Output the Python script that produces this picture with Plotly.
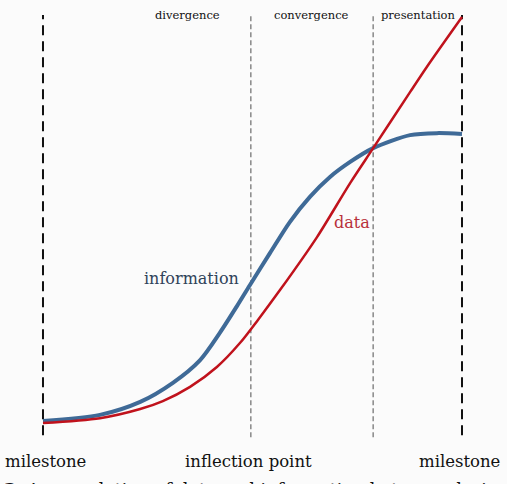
import plotly.graph_objects as go

# time axis (milestone to milestone = 0..10), accumulated amount (0..100)
info_x = [0, 1.36, 2.32, 3.10, 3.75, 4.22, 4.63, 4.94, 5.42, 5.89, 6.37, 6.85, 7.33, 7.88, 8.76, 9.40, 10]
info_y = [0.5, 2.0, 5.2, 9.9, 15.5, 22.2, 28.8, 34.0, 41.9, 49.5, 55.7, 60.6, 64.3, 67.7, 70.9, 71.4, 71.2]

data_x = [0, 1.36, 2.32, 2.86, 3.51, 4.15, 4.70, 5.13, 5.66, 6.54, 7.33, 7.88, 8.76, 9.16, 10]
data_y = [0, 1.2, 3.45, 5.4, 8.9, 13.8, 19.7, 25.4, 32.8, 45.8, 59.1, 67.7, 81.5, 87.7, 100]

milestones = [0, 10]
phase_bounds = [4.96, 7.88]
phase_labels = ["divergence", "convergence", "presentation"]
phase_label_x = [3.46, 6.42, 8.95]
bottom_labels = ["milestone", "inflection point", "milestone"]
bottom_label_x = [0.05, 4.9, 9.95]

SERIF = "DejaVu Serif"

fig = go.Figure()
fig.add_trace(go.Scatter(x=info_x, y=info_y, mode="lines",
                         line=dict(color="#3f6a97", width=4, shape="spline", smoothing=0.8),
                         hoverinfo="skip", showlegend=False))
fig.add_trace(go.Scatter(x=data_x, y=data_y, mode="lines",
                         line=dict(color="#c0121c", width=2.5, shape="spline", smoothing=0.8),
                         hoverinfo="skip", showlegend=False))

for m in milestones:
    fig.add_shape(type="line", x0=m, x1=m, y0=-3, y1=100.5, xref="x", yref="y",
                  line=dict(color="#111111", width=2, dash="10px,6px"), layer="below")
for b in phase_bounds:
    fig.add_shape(type="line", x0=b, x1=b, y0=-3.5, y1=100.5, xref="x", yref="y",
                  line=dict(color="#888888", width=1.5, dash="5px,3px"), layer="below")

for lab, x in zip(phase_labels, phase_label_x):
    fig.add_annotation(x=x, y=100.5, text=lab, showarrow=False, xref="x", yref="y",
                       yanchor="middle", font=dict(family=SERIF, size=11.5, color="#111111"))
for lab, x in zip(bottom_labels, bottom_label_x):
    fig.add_annotation(x=x, y=-9.5, text=lab, showarrow=False, xref="x", yref="y",
                       yanchor="middle", font=dict(family=SERIF, size=16.5, color="#111111"))

fig.add_annotation(x=3.54, y=35.7, text="information", showarrow=False, xref="x", yref="y",
                   font=dict(family=SERIF, size=16, color="#2f4259"))
fig.add_annotation(x=7.37, y=49.3, text="data", showarrow=False, xref="x", yref="y",
                   font=dict(family=SERIF, size=16, color="#b8303a"))

fig.add_annotation(x=0, y=0, xref="paper", yref="paper", xanchor="left", yanchor="top",
                   xshift=2, yshift=7, showarrow=False,
                   text="<b>3</b>. Accumulation of data and information between design phases",
                   font=dict(family=SERIF, size=17.5, color="#111111"))

fig.update_xaxes(range=[-1.026, 11.074], visible=False, fixedrange=True)
fig.update_yaxes(range=[-15.02, 104.19], visible=False, fixedrange=True)
fig.update_layout(width=507, height=484, margin=dict(l=0, r=0, t=0, b=0),
                  paper_bgcolor="#fbfbfb", plot_bgcolor="#fbfbfb")

fig.write_html("out.html")
